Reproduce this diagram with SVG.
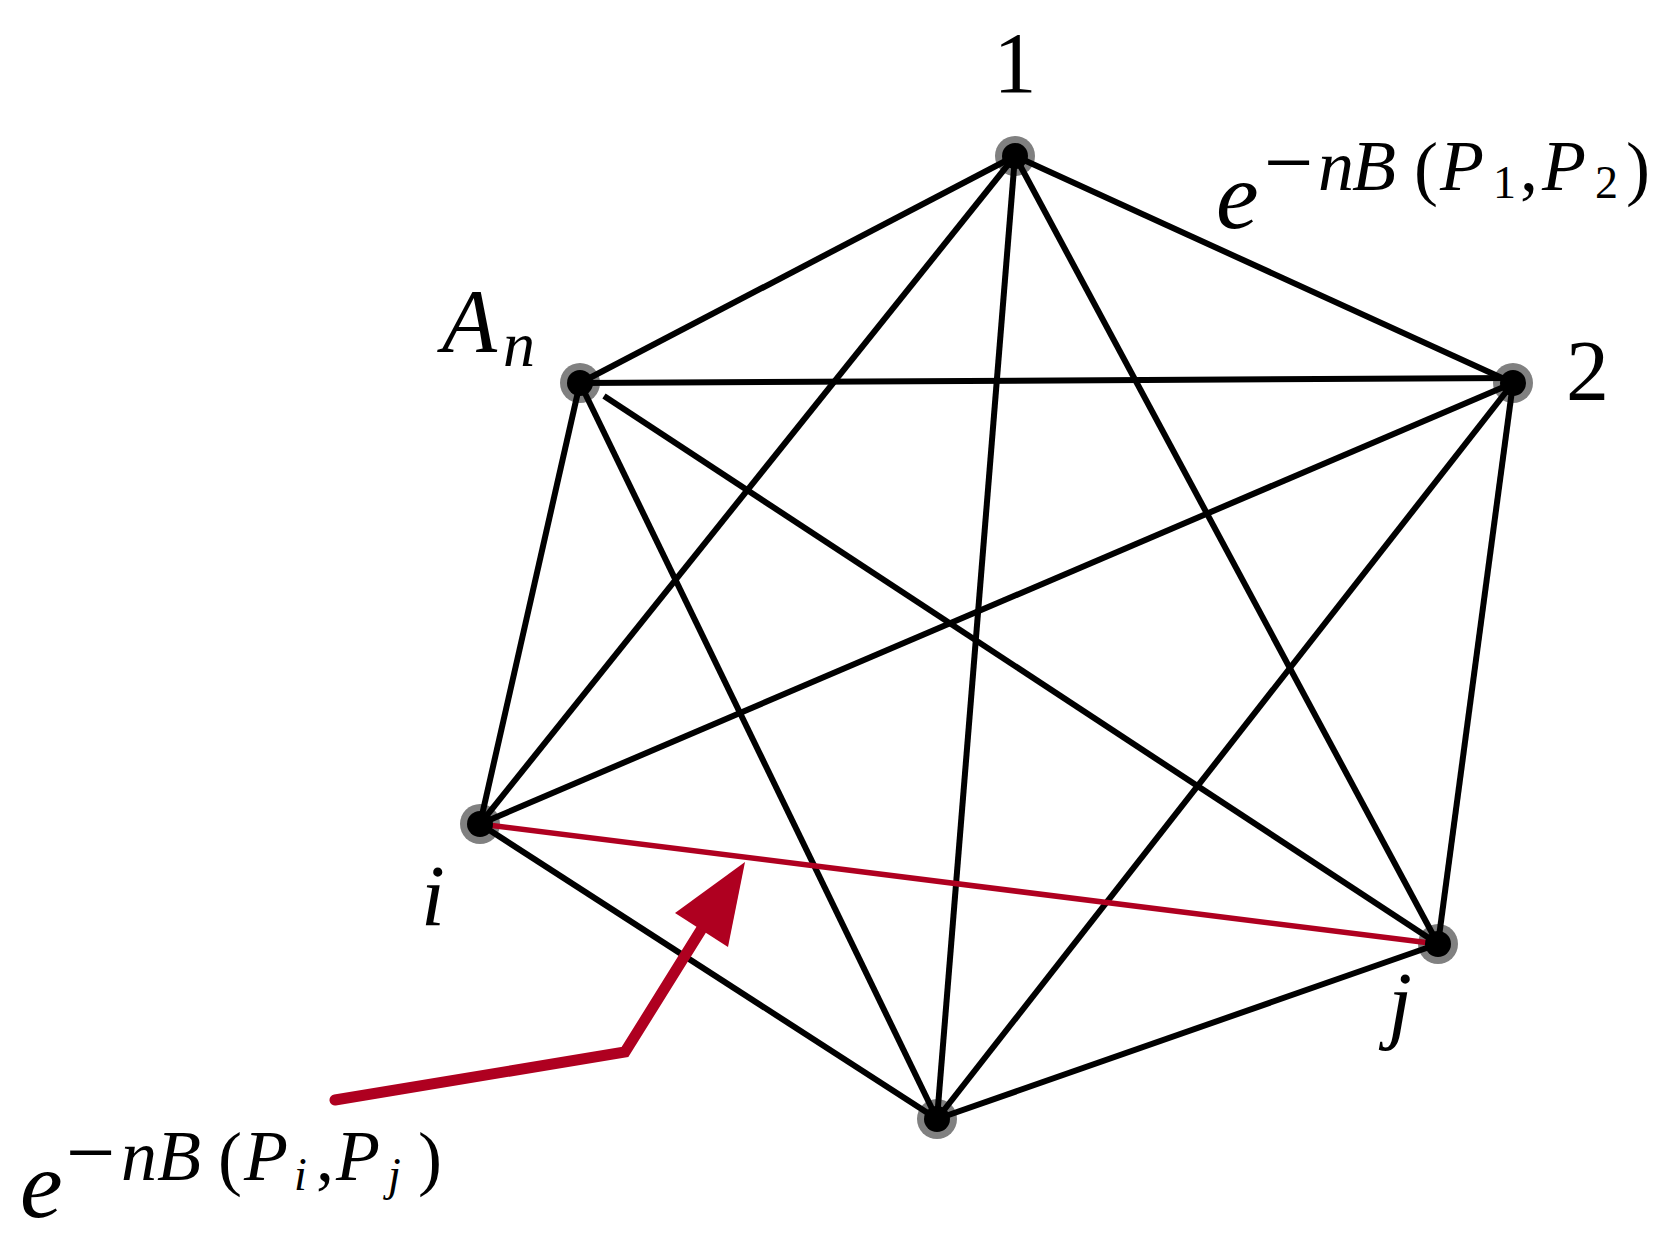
<svg xmlns="http://www.w3.org/2000/svg" width="1677" height="1244" viewBox="0 0 1677 1244">
<style>
.edge{stroke:#000;stroke-width:6;fill:none}
.red{stroke:#af0020;stroke-width:5.5;fill:none}
.halo{fill:#808080}
.dot{fill:#000}
.m{font-family:"Liberation Serif","DejaVu Serif",serif;fill:#000}
.it{font-style:italic}
</style>
<rect width="1677" height="1244" fill="#fff"/>
<g id="halos">
<circle class="halo" cx="1015" cy="156" r="20"/>
<circle class="halo" cx="1513" cy="383" r="20"/>
<circle class="halo" cx="580" cy="383" r="20"/>
<circle class="halo" cx="480" cy="824" r="20"/>
<circle class="halo" cx="1438" cy="944" r="20"/>
<circle class="halo" cx="937" cy="1119" r="20"/>
</g>
<g id="connectors">
<line class="edge" x1="1015" y1="156" x2="580" y2="383"/>
<line class="edge" x1="1015" y1="156" x2="1513" y2="383"/>
<line class="edge" x1="1015" y1="156" x2="480" y2="824"/>
<line class="edge" x1="1015" y1="156" x2="937" y2="1119"/>
<line class="edge" x1="1015" y1="156" x2="1438" y2="944"/>
<line class="edge" x1="580" y1="383" x2="1513" y2="378"/>
<line class="edge" x1="580" y1="383" x2="480" y2="824"/>
<line class="edge" x1="580" y1="383" x2="937" y2="1119"/>
<line class="edge" x1="604" y1="396" x2="1438" y2="944"/>
<line class="edge" x1="1513" y1="383" x2="480" y2="824"/>
<line class="edge" x1="1513" y1="383" x2="937" y2="1119"/>
<line class="edge" x1="1513" y1="383" x2="1438" y2="944"/>
<line class="edge" x1="480" y1="824" x2="937" y2="1119"/>
<line class="edge" x1="937" y1="1119" x2="1438" y2="944"/>
<line class="red" x1="480" y1="824" x2="1438" y2="944"/>
<polyline points="335,1100 625,1052 701,930" fill="none" stroke="#af0020" stroke-width="11" stroke-linecap="round" stroke-linejoin="miter"/>
<polygon points="745,862 675,913 728,947" fill="#af0020"/>
</g>
<g id="node-1"><circle class="dot" cx="1015" cy="156" r="13"/><text class="m" x="1015" y="92" font-size="86" text-anchor="middle">1</text></g>
<g id="node-2"><circle class="dot" cx="1513" cy="383" r="13"/><text class="m" x="1566" y="400" font-size="86">2</text></g>
<g id="node-An"><circle class="dot" cx="580" cy="383" r="13"/><text class="m it" x="442" y="352" font-size="90">A<tspan x="503" y="366" font-size="64">n</tspan></text></g>
<g id="node-i"><circle class="dot" cx="480" cy="824" r="13"/><text class="m it" x="421" y="925" font-size="86">i</text></g>
<g id="node-j"><circle class="dot" cx="1438" cy="944" r="13"/><text class="m it" x="1388" y="1032" font-size="86">j</text></g>
<g id="node-b"><circle class="dot" cx="937" cy="1119" r="13"/></g>
<g id="label-12">
<text class="m" font-size="72"><tspan class="it" x="1216" y="228" font-size="96">e</tspan><tspan x="1264" y="192" font-size="88">−</tspan><tspan class="it" x="1318" y="190">n</tspan><tspan class="it" x="1352" y="190">B</tspan><tspan x="1414" y="192">(</tspan><tspan class="it" x="1440" y="190">P</tspan><tspan x="1493" y="198" font-size="46">1</tspan><tspan x="1520" y="190">,</tspan><tspan class="it" x="1542" y="190">P</tspan><tspan x="1595" y="198" font-size="46">2</tspan><tspan x="1626" y="192">)</tspan></text>
</g>
<g id="label-ij">
<text class="m" font-size="72"><tspan class="it" x="20" y="1217" font-size="96">e</tspan><tspan x="66" y="1182" font-size="88">−</tspan><tspan class="it" x="121" y="1180">n</tspan><tspan class="it" x="157" y="1180">B</tspan><tspan x="218" y="1182">(</tspan><tspan class="it" x="244" y="1180">P</tspan><tspan class="it" x="294" y="1190" font-size="46">i</tspan><tspan x="316" y="1180">,</tspan><tspan class="it" x="336" y="1180">P</tspan><tspan class="it" x="388" y="1190" font-size="46">j</tspan><tspan x="418" y="1182">)</tspan></text>
</g>
</svg>
